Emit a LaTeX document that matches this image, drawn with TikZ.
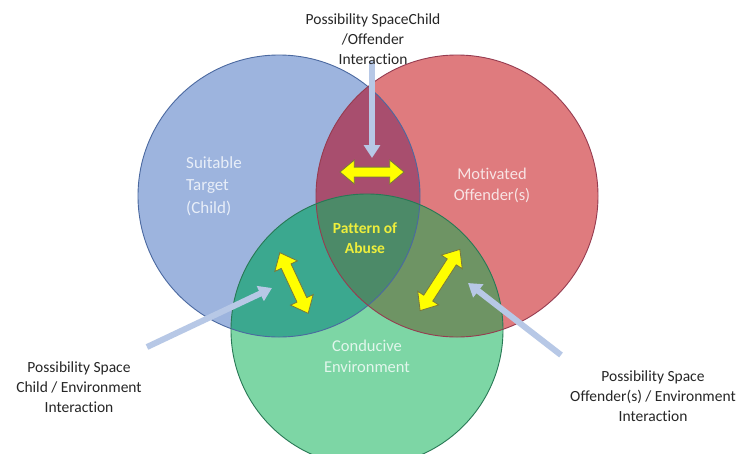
\documentclass[tikz,border=0pt]{standalone}
\usepackage{fontspec}
\setmainfont{Carlito}[Ligatures=NoCommon]
\usetikzlibrary{arrows.meta,shapes.arrows}
\definecolor{cblue}{RGB}{157,180,222}
\definecolor{cred}{RGB}{223,123,126}
\definecolor{cgreen}{RGB}{125,214,165}
\definecolor{cbr}{RGB}{168,78,110}
\definecolor{cbg}{RGB}{59,168,143}
\definecolor{crg}{RGB}{110,148,100}
\definecolor{cc}{RGB}{76,138,104}
\definecolor{oblue}{RGB}{75,105,160}
\definecolor{ored}{RGB}{150,60,80}
\definecolor{ogreen}{RGB}{40,120,85}
\definecolor{lblue}{RGB}{183,200,230}
\definecolor{ylw}{RGB}{255,255,0}
\definecolor{ylwline}{RGB}{120,120,60}
\definecolor{patt}{RGB}{238,238,60}
\definecolor{tblue}{RGB}{232,238,248}
\definecolor{tred}{RGB}{248,228,228}
\definecolor{tgreen}{RGB}{226,246,236}
\begin{document}
\begin{tikzpicture}[x=1pt,y=-1pt,
 lbl/.style={align=center, font=\fontsize{15.5}{20}\selectfont, text=black!85, inner sep=0pt},
 ctext/.style={font=\fontsize{16.5}{21}\selectfont, inner sep=0pt},
 pointer/.style={draw=lblue, line width=6pt, -{Triangle[width=16pt,length=13pt]}},
 darrow/.style={double arrow, draw=ylwline, fill=ylw, line width=0.8pt, inner xsep=0pt,
   double arrow tip angle=80, anchor=center}
]
\useasboundingbox (0,0) rectangle (744,453);
\clip (0,0) rectangle (744,453);
\fill[white] (0,0) rectangle (744,453);
\coordinate (B) at (279,196);
\coordinate (R) at (457,196);
\coordinate (G) at (367,330);
% fills
\fill[cblue] (B) circle[radius=141pt];
\fill[cred] (R) circle[radius=141pt];
\fill[cgreen] (G) circle[radius=136pt];
\begin{scope}\clip (B) circle[radius=141pt]; \fill[cbr] (R) circle[radius=141pt];\end{scope}
\begin{scope}\clip (B) circle[radius=141pt]; \fill[cbg] (G) circle[radius=136pt];\end{scope}
\begin{scope}\clip (R) circle[radius=141pt]; \fill[crg] (G) circle[radius=136pt];\end{scope}
\begin{scope}\clip (B) circle[radius=141pt]; \clip (R) circle[radius=141pt]; \fill[cc] (G) circle[radius=136pt];\end{scope}
% outlines
\draw[oblue, line width=0.9pt] (B) circle[radius=141pt];
\draw[ored, line width=0.9pt] (R) circle[radius=141pt];
\draw[ogreen, line width=0.9pt] (G) circle[radius=136pt];
% circle texts
\node[ctext, font=\fontsize{17}{22.5}\selectfont, text=tblue, align=left, anchor=west] (child) at (186,186) {Suitable\\Target\\(Child)};
\node[ctext, text=tred, align=center] (offender) at (492,185) {Motivated\\Offender(s)};
\node[ctext, text=tgreen, align=center] (environment) at (367,356) {Conducive\\Environment};
\node[inner sep=0pt, align=center, text=patt, font=\fontsize{15.5}{20}\selectfont\bfseries] (abuse) at (365,238) {Pattern of\\Abuse};
% yellow double arrows
\node[darrow, inner ysep=4.5pt, minimum width=20pt, minimum height=64pt] (yc) at (372,172) {};
\node[darrow, inner ysep=5pt, minimum width=22pt, minimum height=67pt, rotate=-65] (yl) at (294,283) {};
\node[darrow, inner ysep=5pt, minimum width=22pt, minimum height=73pt, rotate=57] (yr) at (440,280) {};
% pointers
\coordinate (tA) at (372,61); \coordinate (hA) at (372,158);
\coordinate (tB) at (147,347); \coordinate (hB) at (272,288);
\coordinate (tC) at (561,355); \coordinate (hC) at (468,283);
\draw[pointer] (tA) -- (hA);
\draw[pointer] (tB) -- (hB);
\draw[pointer] (tC) -- (hC);
% labels
\node[lbl] (topl) at (373,39) {Possibility SpaceChild\\/Offender\\Interaction};
\node[lbl] (leftl) at (79,387) {Possibility Space\\Child / Environment\\Interaction};
\node[lbl] (rightl) at (653,396) {Possibility Space\\Offender(s) / Environment\\Interaction};
\end{tikzpicture}
\end{document}
